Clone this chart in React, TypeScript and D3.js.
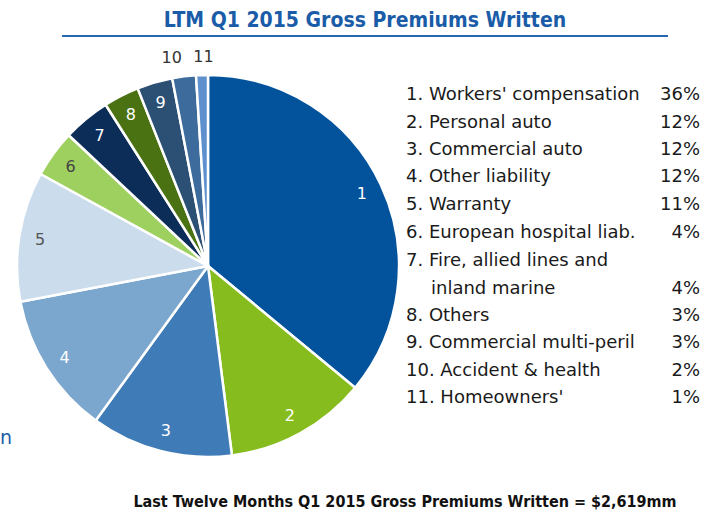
import React from "react";
import * as d3 from "d3";

const categories = [
  "Workers' compensation",
  "Personal auto",
  "Commercial auto",
  "Other liability",
  "Warranty",
  "European hospital liab.",
  "Fire, allied lines and|inland marine",
  "Others",
  "Commercial multi-peril",
  "Accident & health",
  "Homeowners'",
];
const values = [36, 12, 12, 12, 11, 4, 4, 3, 3, 2, 1];
const colors = [
  "#02529c",
  "#86bc1e",
  "#3f7bb6",
  "#7ba6ce",
  "#cbdcec",
  "#9dd05e",
  "#0c2d57",
  "#4b7212",
  "#2c4f74",
  "#3d6b9b",
  "#5d90cc",
];
const labelColors = ["#fff", "#fff", "#fff", "#fff", "#555", "#444", "#fff", "#fff", "#fff", "#333", "#333"];
const title = "LTM Q1 2015 Gross Premiums Written";
const footer = "Last Twelve Months Q1 2015 Gross Premiums Written = $2,619mm";

export default function App() {
  const W = 717, H = 515;
  const cx = 208, cy = 266, r = 191;
  const pie = d3.pie<number>().sort(null).value((d) => d);
  const arcs = pie(values);
  const arc = d3.arc<d3.PieArcDatum<number>>().innerRadius(0).outerRadius(r);
  const labelArc = d3.arc<d3.PieArcDatum<number>>().innerRadius(r * 0.89).outerRadius(r * 0.89);
  const outArc = d3.arc<d3.PieArcDatum<number>>().innerRadius(r * 1.1).outerRadius(r * 1.1);
  const font = "'DejaVu Sans', sans-serif";
  const cond = "'DejaVu Sans Condensed', 'DejaVu Sans', sans-serif";
  const legendX = 406, pctX = 700;
  const rowY = [100, 128, 155, 182, 210, 238, 266, 321, 348, 376, 403];
  return (
    <svg width={W} height={H} style={{ position: "absolute", left: 0, top: 0, background: "#fff" }}>
      <text x={365} y={27} textAnchor="middle" fontFamily={cond} fontWeight="bold" fontSize={21} fill="#1a5ca8">
        {title}
      </text>
      <line x1={62} x2={668} y1={36} y2={36} stroke="#2a66b0" strokeWidth={2} />
      <g transform={`translate(${cx},${cy})`}>
        {arcs.map((a, i) => (
          <path key={i} d={arc(a) || ""} fill={colors[i]} stroke="#fff" strokeWidth={2.5} strokeLinejoin="round" />
        ))}
        {arcs.map((a, i) => {
          const [x, y] = i >= 9 ? outArc.centroid(a) : labelArc.centroid(a);
          const dx = i === 9 ? -10 : i === 10 ? 2 : 0;
          return (
            <text key={"l" + i} x={x + dx} y={y} dy="0.35em" textAnchor="middle" fontFamily={font} fontSize={16} fill={labelColors[i]}>
              {i + 1}
            </text>
          );
        })}
      </g>
      <text x={0} y={444} fontFamily={font} fontSize={19} fill="#1a5ca8">n</text>
      {categories.map((c, i) => {
        const parts = c.split("|");
        const y = rowY[i];
        const pctY = parts.length > 1 ? y + 27.5 : y;
        return (
          <g key={"g" + i} fontFamily={font} fontSize={18} fill="#1a1a1a">
            <text x={legendX} y={y}>{`${i + 1}. ${parts[0]}`}</text>
            {parts.length > 1 && <text x={legendX + 25} y={y + 27.5}>{parts[1]}</text>}
            <text x={pctX} y={pctY} textAnchor="end">{`${values[i]}%`}</text>
          </g>
        );
      })}
      <text x={405} y={507} textAnchor="middle" fontFamily={cond} fontWeight="bold" fontSize={16} fill="#111">
        {footer}
      </text>
    </svg>
  );
}
